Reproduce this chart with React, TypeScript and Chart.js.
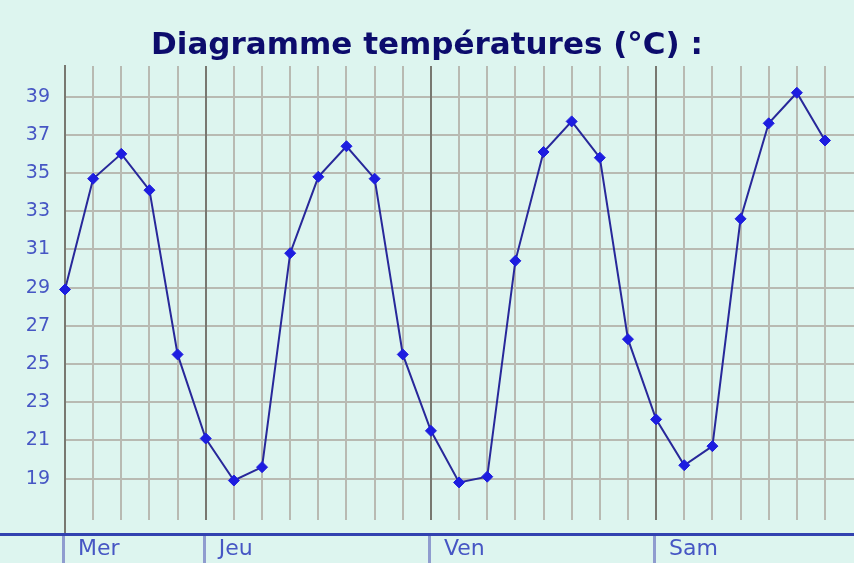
import React, { useEffect, useRef } from 'react';
import { Chart, registerables } from 'chart.js';

Chart.register(...registerables);

// ---- data ----
const chartTitle = 'Diagramme températures (°C) :';
const dayLabels = ['Mer', 'Jeu', 'Ven', 'Sam'];
const dayStartSlots = [0, 5, 13, 21];
const temperatures = [
  28.9, 34.7, 36.0, 34.1, 25.5, 21.1, 18.9, 19.6,
  30.8, 34.8, 36.4, 34.7, 25.5, 21.5, 18.8, 19.1,
  30.4, 36.1, 37.7, 35.8, 26.3, 22.1, 19.7, 20.7,
  32.6, 37.6, 39.2, 36.7,
];
const yTickValues = [19, 21, 23, 25, 27, 29, 31, 33, 35, 37, 39];

// ---- styles ----
const BG = '#ddf5ef';
const GRID = '#b8bab2';
const DAY_LINE = '#787870';
const TITLE = '#0c0c6c';
const LABEL = '#4656c4';
const LINE = '#28289a';
const POINT = '#1d1de0';
const AXIS = '#3242b0';
const DAY_TICK = '#8f9ccf';
const FONT = 'DejaVu Sans';

const decorPlugin = {
  id: 'decor',
  beforeDraw(chart: any) {
    const ctx = chart.ctx;
    ctx.save();
    ctx.fillStyle = BG;
    ctx.fillRect(0, 0, chart.width, chart.height);
    ctx.restore();
  },
  beforeDatasetsDraw(chart: any) {
    const { ctx, chartArea } = chart;
    const x = chart.scales.x;
    const gridBottom = chartArea.bottom - 14;
    ctx.save();
    ctx.lineWidth = 2;
    for (let i = 1; i < temperatures.length; i++) {
      const px = Math.round(x.getPixelForValue(i));
      ctx.strokeStyle = dayStartSlots.includes(i) ? DAY_LINE : GRID;
      ctx.beginPath();
      ctx.moveTo(px, chartArea.top);
      ctx.lineTo(px, gridBottom);
      ctx.stroke();
    }
    ctx.restore();
  },
  afterDraw(chart: any) {
    const { ctx, chartArea } = chart;
    const x = chart.scales.x;
    ctx.save();
    ctx.fillStyle = AXIS;
    ctx.fillRect(0, chartArea.bottom - 1, chart.width, 3);
    ctx.fillStyle = DAY_TICK;
    for (const s of dayStartSlots) {
      const px = Math.round(x.getPixelForValue(s)) - 2;
      ctx.fillRect(px - 1, chartArea.bottom + 2, 3, chart.height - chartArea.bottom - 2);
    }
    ctx.restore();
  },
};

export default function App() {
  const ref = useRef<HTMLCanvasElement | null>(null);

  useEffect(() => {
    if (!ref.current) return;
    const chart = new Chart(ref.current, {
      type: 'line',
      data: {
        datasets: [
          {
            data: temperatures.map((t, i) => ({ x: i, y: t })),
            borderColor: LINE,
            borderWidth: 2,
            pointStyle: 'rectRot',
            pointRadius: 5.5,
            pointBackgroundColor: POINT,
            pointBorderColor: POINT,
            pointBorderWidth: 1,
            tension: 0,
            fill: false,
            clip: false,
          },
        ],
      },
      options: {
        responsive: false,
        animation: false,
        layout: { autoPadding: false, padding: { top: 27.4, left: 0, right: 0, bottom: 0 } },
        plugins: {
          legend: { display: false },
          tooltip: { enabled: false },
          title: {
            display: true,
            text: chartTitle,
            color: TITLE,
            font: { family: FONT, size: 31, weight: 'bold' },
            padding: { top: 0, bottom: 1.4 },
          },
        },
        scales: {
          x: {
            type: 'linear',
            min: 0,
            max: 28.03,
            afterBuildTicks: (s: any) => {
              s.ticks = dayStartSlots.map((v) => ({ value: v }));
            },
            afterFit: (s: any) => {
              s.height = 29;
              s.paddingLeft = 0;
              s.paddingRight = 0;
            },
            grid: { display: false, drawTicks: false },
            border: { display: false },
            ticks: {
              autoSkip: false,
              maxRotation: 0,
              align: 'start',
              labelOffset: 13,
              padding: 2,
              color: LABEL,
              font: { family: FONT, size: 22 },
              callback: (_v: any, i: number) => dayLabels[i] ?? '',
            },
          },
          y: {
            min: 16.1,
            max: 40.6,
            afterBuildTicks: (s: any) => {
              s.ticks = yTickValues.map((v) => ({ value: v }));
            },
            afterFit: (s: any) => {
              s.width = 65;
              s.paddingTop = 0;
              s.paddingBottom = 0;
            },
            grid: { color: GRID, lineWidth: 2, drawTicks: false },
            border: { display: true, color: DAY_LINE, width: 2 },
            ticks: {
              color: LABEL,
              padding: 15,
              font: { family: FONT, size: 19 },
              callback: (v: any) => String(v),
            },
          },
        },
      },
      plugins: [decorPlugin],
    } as any);
    return () => chart.destroy();
  }, []);

  return (
    <div style={{ position: 'fixed', left: 0, top: 0, width: 854, height: 563, background: BG }}>
      <canvas ref={ref} width={854} height={563} style={{ display: 'block' }} />
    </div>
  );
}
